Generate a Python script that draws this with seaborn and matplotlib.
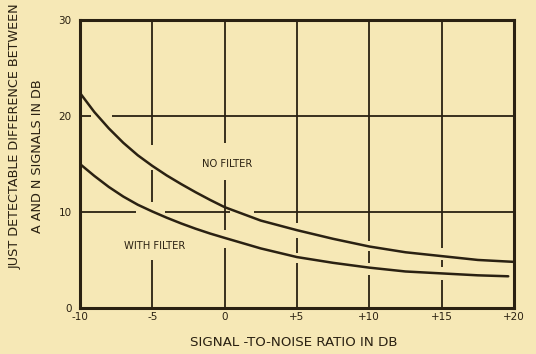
import matplotlib
matplotlib.use("Agg")
import matplotlib.pyplot as plt
import seaborn as sns
import pandas as pd

# Signal-to-noise ratio (dB) and just detectable A/N difference (dB)
snr_no_filter = [-10, -9, -8, -7, -6, -5, -4, -3, -2, -1, 0,
                 2.5, 5, 7.5, 10, 12.5, 15, 17.5, 20]
diff_no_filter = [22.4, 20.4, 18.7, 17.2, 15.9, 14.8, 13.8, 12.9, 12.05, 11.25, 10.5,
                  9.1, 8.1, 7.2, 6.4, 5.8, 5.4, 5.0, 4.8]

snr_with_filter = [-10, -9, -8, -7, -6, -5, -4, -3, -2, -1, 0,
                   2.5, 5, 7.5, 10, 12.5, 15, 17.5, 19.6]
diff_with_filter = [15.0, 13.75, 12.6, 11.6, 10.75, 10.05, 9.4, 8.8, 8.25, 7.75, 7.3,
                    6.2, 5.3, 4.7, 4.2, 3.8, 3.6, 3.4, 3.3]

x_ticks = [-10, -5, 0, 5, 10, 15, 20]
x_tick_labels = ["-10", "-5", "0", "+5", "+10", "+15", "+20"]
y_ticks = [0, 10, 20, 30]
y_tick_labels = ["0", "10", "20", "30"]

PAPER = "#f6e8b6"
INK = "#2a2112"

sns.set_theme(style="white")
plt.rcParams["font.family"] = ["DejaVu Sans"]

df = pd.concat([
    pd.DataFrame({"snr": snr_no_filter, "diff": diff_no_filter, "curve": "NO FILTER"}),
    pd.DataFrame({"snr": snr_with_filter, "diff": diff_with_filter, "curve": "WITH FILTER"}),
])

fig = plt.figure(figsize=(5.36, 3.54), dpi=100, facecolor=PAPER)
ax = fig.add_axes([0.149, 0.130, 0.810, 0.814])
ax.set_facecolor(PAPER)

# hand-drawn style grid with breaks where curves and labels cross
v_segments = {
    -5: [(17.0, 30), (11.0, 14.4), (0, 5.0)],
    0: [(17.2, 30), (8.1, 13.3), (0, 6.2)],
    5: [(8.8, 30), (5.7, 7.3), (0, 4.7)],
    10: [(7.0, 30), (4.7, 5.9), (0, 3.4)],
    15: [(6.2, 30), (4.3, 5.0), (0, 2.9)],
}
h_segments = {
    20: [(-10, -9.2), (-7.8, 20)],
    10: [(-10, -6.1), (-4.1, 0.4), (2.0, 20)],
}
for xv, segs in v_segments.items():
    for y0, y1 in segs:
        ax.plot([xv, xv], [y0, y1], color=INK, lw=1.3, solid_capstyle="butt", zorder=1)
for yv, segs in h_segments.items():
    for x0, x1 in segs:
        ax.plot([x0, x1], [yv, yv], color=INK, lw=1.3, solid_capstyle="butt", zorder=1)

sns.lineplot(data=df, x="snr", y="diff", units="curve", estimator=None,
             color=INK, lw=1.8, ax=ax, legend=False, zorder=3)

ax.set_xlim(-10, 20)
ax.set_ylim(0, 30)
ax.set_xticks(x_ticks)
ax.set_xticklabels(x_tick_labels)
ax.set_yticks(y_ticks)
ax.set_yticklabels(y_tick_labels)
ax.tick_params(axis="both", length=0, labelsize=7.5, colors=INK)
ax.tick_params(axis="x", pad=3)
ax.tick_params(axis="y", pad=6)
ax.grid(False)
for s in ax.spines.values():
    s.set_color(INK)
    s.set_linewidth(2.2)
    s.set_visible(True)

ax.set_xlabel("")
ax.set_ylabel("")

ax.text(0.16, 15.0, "NO FILTER", fontsize=7.2, color=INK, ha="center", va="center")
ax.text(-4.8, 6.45, "WITH FILTER", fontsize=7.2, color=INK, ha="center", va="center")

fig.text(294 / 536, 1 - 343 / 354, "SIGNAL -TO-NOISE RATIO IN DB",
         fontsize=9.6, color=INK, ha="center", va="center")
fig.text(15 / 536, 1 - 136 / 354, "JUST DETECTABLE DIFFERENCE BETWEEN", rotation=90,
         fontsize=9.2, color=INK, ha="center", va="center")
fig.text(38 / 536, 1 - 156 / 354, "A AND N SIGNALS IN DB", rotation=90,
         fontsize=9.2, color=INK, ha="center", va="center")

fig.savefig("out.png", dpi=100, facecolor=PAPER)
